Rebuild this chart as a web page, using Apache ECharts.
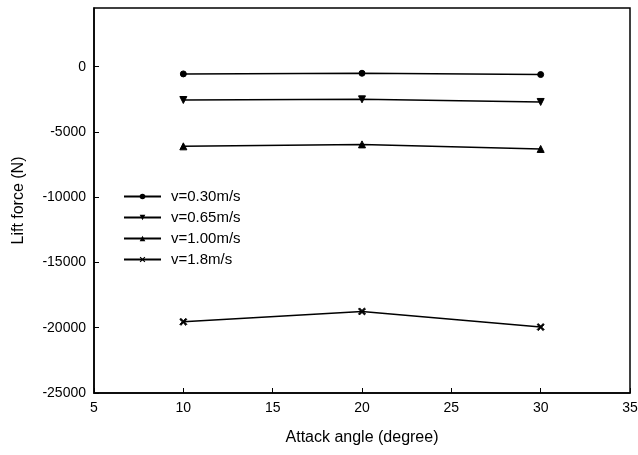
<!DOCTYPE html>
<html>
<head>
<meta charset="utf-8">
<script src="https://cdn.jsdelivr.net/npm/echarts@6/dist/echarts.min.js"></script>
<style>
  html, body { margin: 0; padding: 0; background: #fff; }
  #chart { width: 638px; height: 455px; }
</style>
</head>
<body>
<div id="chart"></div>
<script>
  var angles = [10, 20, 30];
  var seriesNames = ['v=0.30m/s', 'v=0.65m/s', 'v=1.00m/s', 'v=1.8m/s'];
  var v030 = [-550, -500, -600];
  var v065 = [-2550, -2500, -2700];
  var v100 = [-6100, -5950, -6300];
  var v180 = [-19550, -18750, -19950];

  // bold X marker
  var crossPath = 'path://M1.5,0 L5,3.5 L8.5,0 L10,1.5 L6.5,5 L10,8.5 L8.5,10 L5,6.5 L1.5,10 L0,8.5 L3.5,5 L0,1.5 Z';
  var symbols = ['circle', 'triangle', 'triangle', crossPath];
  var rotates = [0, 180, 0, 0];
  var sizes = [6, 7, 7, 7];
  var values = [v030, v065, v100, v180];

  function pairs (ys) {
    return angles.map(function (a, i) { return [a, ys[i]] })
  }

  var chart = echarts.init(document.getElementById('chart'));
  var font = 'Liberation Sans, Arial, sans-serif';

  var option = {
    animation: false,
    grid: {
      left: 94, right: 8, top: 8, bottom: 62,
      outerBoundsMode: 'none', containLabel: false,
      show: true, borderColor: '#000', borderWidth: 1.5, backgroundColor: 'transparent'
    },
    legend: {
      left: 123, top: 189, padding: 0,
      orient: 'vertical',
      itemWidth: 37, itemHeight: 7, itemGap: 6,
      textStyle: { fontFamily: font, fontSize: 15, color: '#000', padding: [0, 0, 0, 5] },
      data: seriesNames
    },
    xAxis: {
      type: 'value', min: 5, max: 35, interval: 5,
      name: 'Attack angle (degree)', nameLocation: 'middle', nameGap: 37,
      nameTextStyle: { fontFamily: font, fontSize: 16, color: '#000' },
      axisLine: { onZero: false, lineStyle: { color: '#000', width: 1.5 } },
      axisTick: { inside: true, length: 5, lineStyle: { color: '#000' } },
      axisLabel: { fontFamily: font, fontSize: 14, color: '#000', margin: 8 },
      splitLine: { show: false }
    },
    yAxis: {
      type: 'value', min: -25000, max: 4500, interval: 5000,
      name: 'Lift force (N)', nameLocation: 'middle', nameGap: 67, nameRotate: 90,
      nameTextStyle: { fontFamily: font, fontSize: 16, color: '#000' },
      axisLine: { onZero: false, lineStyle: { color: '#000', width: 1.5 } },
      axisTick: { inside: true, length: 5, lineStyle: { color: '#000' } },
      axisLabel: {
        fontFamily: font, fontSize: 14, color: '#000', margin: 8, showMaxLabel: false,
        formatter: function (v) { return String(v) }
      },
      splitLine: { show: false }
    },
    series: seriesNames.map(function (name, i) {
      return {
        name: name,
        type: 'line',
        data: pairs(values[i]),
        symbol: symbols[i],
        symbolRotate: rotates[i],
        symbolSize: sizes[i],
        showAllSymbol: true,
        lineStyle: { color: '#000', width: 1.5 },
        itemStyle: { color: '#000', borderColor: '#000' }
      }
    })
  };

  chart.setOption(option);
</script>
</body>
</html>
